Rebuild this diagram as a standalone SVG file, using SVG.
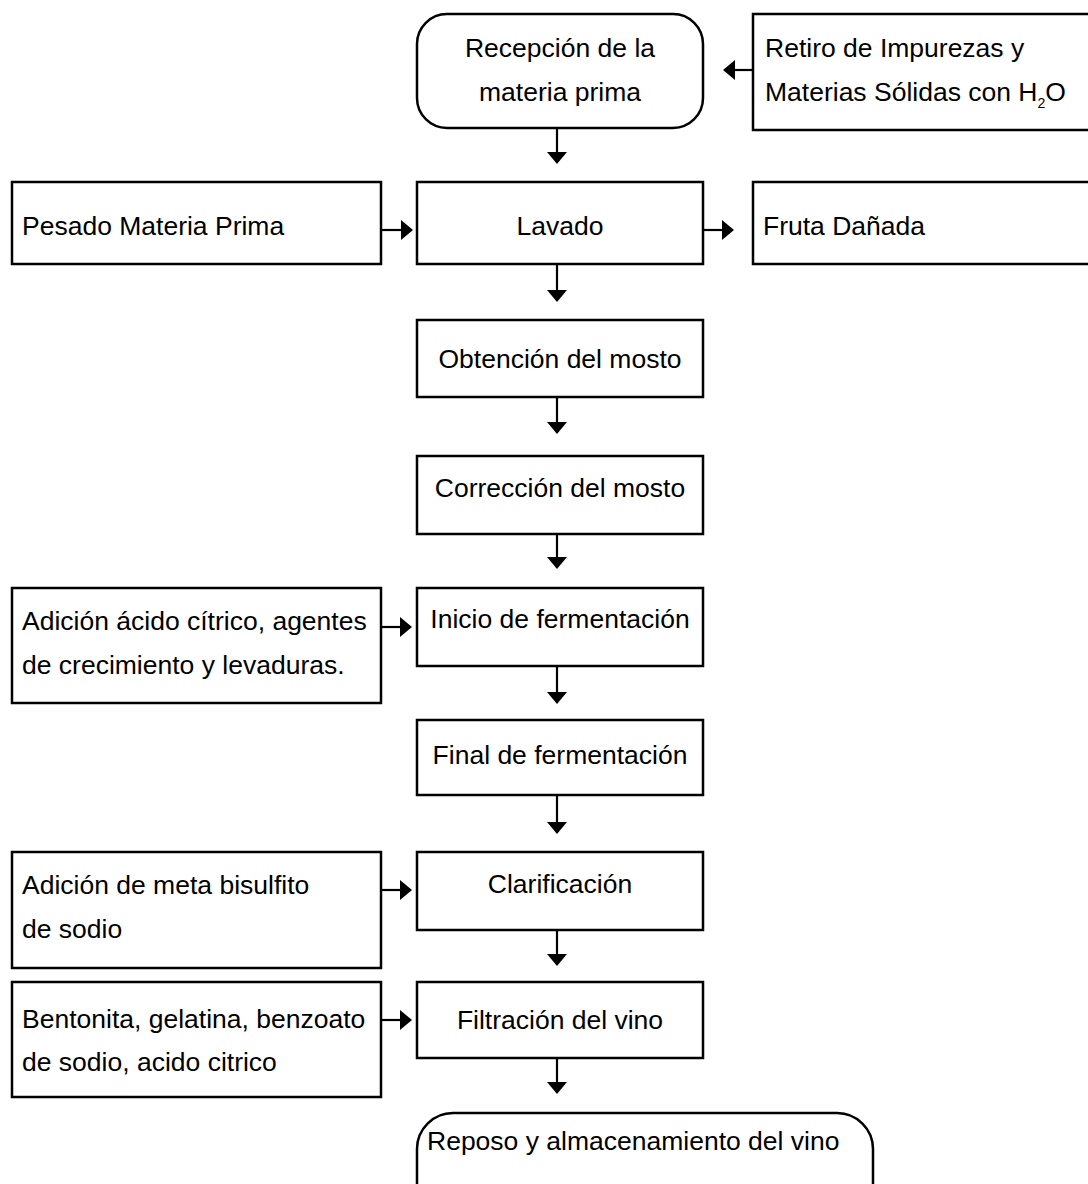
<svg xmlns="http://www.w3.org/2000/svg" width="1088" height="1184" viewBox="0 0 1088 1184">
<defs>
<style>
.box{fill:#fff;stroke:#000;stroke-width:2.5}
.t{font-family:"Liberation Sans",Arial,sans-serif;font-size:26.5px;fill:#000}
.c{text-anchor:middle}
.ln{stroke:#000;stroke-width:2.2;fill:none}
</style>
<marker id="ah" markerUnits="userSpaceOnUse" markerWidth="12" markerHeight="20" viewBox="0 0 12 20" refX="0" refY="10" orient="auto">
<path d="M0,0 L12,10 L0,20 Z" fill="#000"/>
</marker>
</defs>
<rect width="1088" height="1184" fill="#fff"/>

<g id="recepcion">
<rect class="box" x="417" y="14" width="286" height="114" rx="30" ry="30"/>
<text class="t c" x="560" y="57">Recepción de la</text>
<text class="t c" x="560" y="101">materia prima</text>
</g>
<g id="retiro">
<rect class="box" x="753" y="14" width="345" height="116"/>
<text class="t" x="765" y="57">Retiro de Impurezas y</text>
<text class="t" x="765" y="101">Materias Sólidas con H<tspan font-size="14" dy="7">2</tspan><tspan dy="-7">O</tspan></text>
</g>
<g id="pesado">
<rect class="box" x="12" y="182" width="369" height="82"/>
<text class="t" x="22" y="235">Pesado Materia Prima</text>
</g>
<g id="lavado">
<rect class="box" x="417" y="182" width="286" height="82"/>
<text class="t c" x="560" y="235">Lavado</text>
</g>
<g id="fruta">
<rect class="box" x="753" y="182" width="345" height="82"/>
<text class="t" x="763" y="235">Fruta Dañada</text>
</g>
<g id="obtencion">
<rect class="box" x="417" y="320" width="286" height="77"/>
<text class="t c" x="560" y="368">Obtención del mosto</text>
</g>
<g id="correccion">
<rect class="box" x="417" y="456" width="286" height="78"/>
<text class="t c" x="560" y="497">Corrección del mosto</text>
</g>
<g id="adicion-acido">
<rect class="box" x="12" y="588" width="369" height="115"/>
<text class="t" x="22" y="630">Adición ácido cítrico, agentes</text>
<text class="t" x="22" y="674">de crecimiento y levaduras.</text>
</g>
<g id="inicio">
<rect class="box" x="417" y="588" width="286" height="78"/>
<text class="t c" x="560" y="628">Inicio de fermentación</text>
</g>
<g id="final">
<rect class="box" x="417" y="720" width="286" height="75"/>
<text class="t c" x="560" y="764">Final de fermentación</text>
</g>
<g id="adicion-meta">
<rect class="box" x="12" y="852" width="369" height="116"/>
<text class="t" x="22" y="894">Adición de meta bisulfito</text>
<text class="t" x="22" y="938">de sodio</text>
</g>
<g id="clarificacion">
<rect class="box" x="417" y="852" width="286" height="78"/>
<text class="t c" x="560" y="893">Clarificación</text>
</g>
<g id="bentonita">
<rect class="box" x="12" y="982" width="369" height="115"/>
<text class="t" x="22" y="1028">Bentonita, gelatina, benzoato</text>
<text class="t" x="22" y="1071">de sodio, acido citrico</text>
</g>
<g id="filtracion">
<rect class="box" x="417" y="982" width="286" height="76"/>
<text class="t c" x="560" y="1029">Filtración del vino</text>
</g>
<g id="reposo">
<rect class="box" x="417" y="1113" width="456" height="110" rx="36" ry="36"/>
<text class="t" x="427" y="1150">Reposo y almacenamiento del vino</text>
</g>

<g id="connectors">
<line class="ln" x1="557" y1="128" x2="557" y2="152" marker-end="url(#ah)"/>
<line class="ln" x1="557" y1="264" x2="557" y2="290" marker-end="url(#ah)"/>
<line class="ln" x1="557" y1="397" x2="557" y2="422" marker-end="url(#ah)"/>
<line class="ln" x1="557" y1="534" x2="557" y2="557" marker-end="url(#ah)"/>
<line class="ln" x1="557" y1="666" x2="557" y2="692" marker-end="url(#ah)"/>
<line class="ln" x1="557" y1="795" x2="557" y2="822" marker-end="url(#ah)"/>
<line class="ln" x1="557" y1="930" x2="557" y2="954" marker-end="url(#ah)"/>
<line class="ln" x1="557" y1="1058" x2="557" y2="1082" marker-end="url(#ah)"/>
<line class="ln" x1="753" y1="70" x2="735" y2="70" marker-end="url(#ah)"/>
<line class="ln" x1="381" y1="230" x2="401" y2="230" marker-end="url(#ah)"/>
<line class="ln" x1="703" y1="230" x2="722" y2="230" marker-end="url(#ah)"/>
<line class="ln" x1="381" y1="627" x2="400" y2="627" marker-end="url(#ah)"/>
<line class="ln" x1="381" y1="890" x2="400" y2="890" marker-end="url(#ah)"/>
<line class="ln" x1="381" y1="1020" x2="400" y2="1020" marker-end="url(#ah)"/>
</g>
</svg>
